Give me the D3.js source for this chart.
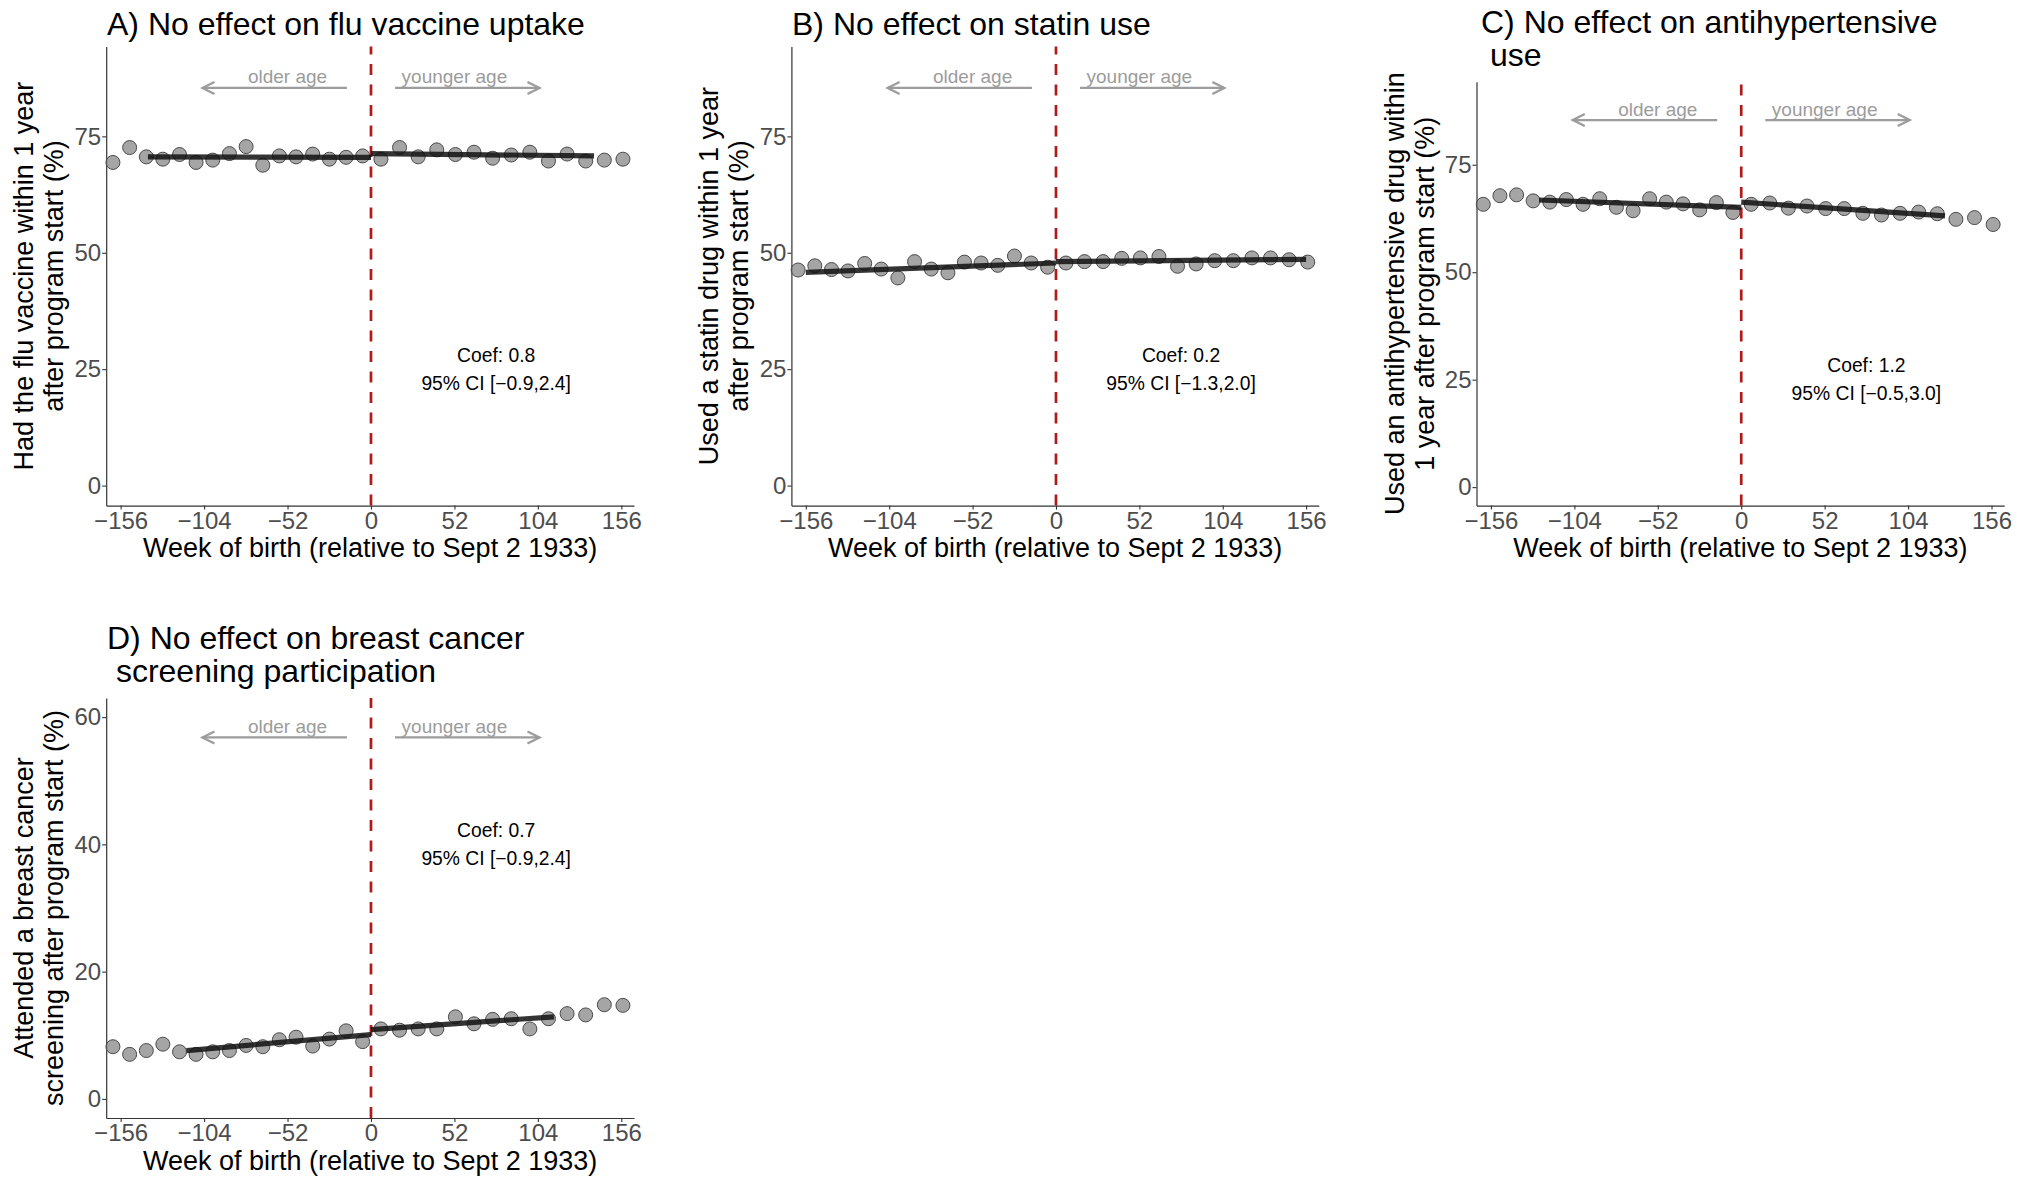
<!DOCTYPE html>
<html>
<head>
<meta charset="utf-8">
<script src="https://cdn.jsdelivr.net/npm/d3@7"></script>
<style>
  html, body { margin: 0; padding: 0; background: #fff; }
  svg { display: block; font-family: "Liberation Sans", Arial, Helvetica, sans-serif; }
  .pre { white-space: pre; }
</style>
</head>
<body>
<svg id="chart" width="2035" height="1178"></svg>
<script>
// ---------------- DATA ----------------
const weeks = [-160.8, -150.4, -140.0, -129.7, -119.3, -109.0, -98.6, -88.2, -77.8, -67.4,
               -57.1, -46.7, -36.3, -25.9, -15.5, -5.2,
               6.2, 17.8, 29.4, 41.0, 52.6, 64.2, 75.8, 87.4, 99.0, 110.6, 122.2, 133.8, 145.4, 157.0];

const fluValues = [69.4, 72.6, 70.6, 70.1, 71.1, 69.4, 69.9, 71.3, 72.8, 68.8,
                   70.8, 70.6, 71.2, 70.1, 70.5, 70.8,
                   70.1, 72.6, 70.6, 72.1, 71.1, 71.6, 70.3, 71.0, 71.6, 69.7, 71.2, 69.7, 69.9, 70.1];

const statinValues = [46.3, 47.2, 46.4, 46.1, 47.7, 46.5, 44.6, 48.1, 46.5, 45.7,
                      48.0, 47.8, 47.3, 49.3, 47.8, 46.9,
                      47.8, 48.1, 48.1, 48.8, 48.9, 49.2, 47.1, 47.6, 48.3, 48.3, 48.9, 48.9, 48.5, 48.0];

const antihypValues = [65.8, 67.8, 68.0, 66.6, 66.3, 66.9, 65.8, 67.1, 65.1, 64.3,
                       67.1, 66.3, 65.9, 64.5, 66.2, 63.9,
                       65.8, 66.1, 64.9, 65.4, 64.8, 64.8, 63.7, 63.3, 63.7, 64.0, 63.6, 62.3, 62.7, 61.1];

const breastValues = [8.2, 7.0, 7.6, 8.6, 7.4, 7.0, 7.4, 7.6, 8.4, 8.2,
                      9.3, 9.7, 8.3, 9.4, 10.7, 9.0,
                      11.0, 10.8, 11.0, 11.0, 12.9, 11.8, 12.5, 12.6, 11.0, 12.6, 13.4, 13.2, 14.8, 14.7];

// fitted local-linear lines (two segments each side of the cutoff)
const fluFitLeft = [[-139, 70.6], [0, 70.5]];
const fluFitRight = [[0, 71.3], [139, 70.8]];
const statinFitLeft = [[-156, 45.8], [0, 47.8]];
const statinFitRight = [[0, 48.1], [156, 48.6]];
const antihypFitLeft = [[-126, 66.8], [0, 65.1]];
const antihypFitRight = [[0, 66.3], [127, 63.1]];
const breastFitLeft = [[-115, 7.6], [0, 10.1]];
const breastFitRight = [[0, 10.9], [114, 12.9]];

const xTicks = [-156, -104, -52, 0, 52, 104, 156];
const pctTicks = [0, 25, 50, 75];
const breastTicks = [0, 20, 40, 60];

const xTitle = "Week of birth (relative to Sept 2 1933)";
const titles = {
  A: ["A) No effect on flu vaccine uptake"],
  B: ["B) No effect on statin use"],
  C: ["C) No effect on antihypertensive", " use"],
  D: ["D) No effect on breast cancer", " screening participation"]
};
const yTitles = {
  A: ["Had the flu vaccine within 1 year", "after program start (%)"],
  B: ["Used a statin drug within 1 year", "after program start (%)"],
  C: ["Used an antihypertensive drug within", "1 year after program start (%)"],
  D: ["Attended a breast cancer", "screening after program start (%)"]
};
const coefLabels = {
  A: ["Coef: 0.8", "95% CI [\u22120.9,2.4]"],
  B: ["Coef: 0.2", "95% CI [\u22121.3,2.0]"],
  C: ["Coef: 1.2", "95% CI [\u22120.5,3.0]"],
  D: ["Coef: 0.7", "95% CI [\u22120.9,2.4]"]
};
const arrowLabels = ["older age", "younger age"];
const arrowOlder = [-15, -105];
const arrowYounger = [15, 105];
const labelWeeks = [-52, 52];
const coefWeek = 78;

// ---------------- LAYOUT ----------------
const xDomain = [-165, 163.9];
const panels = [
  { key: "A", values: fluValues, fitL: fluFitLeft, fitR: fluFitRight, yTicks: pctTicks,
    yDomain: [-4.3, 94.3], left: 106.2, right: 634, top: 46.5, bottom: 505.6,
    titleX: 107, titleBase: [34.5], arrowY: 85.4, arrowTextY: 88, coefY: 25 },
  { key: "B", values: statinValues, fitL: statinFitLeft, fitR: statinFitRight, yTicks: pctTicks,
    yDomain: [-4.3, 94.3], left: 791.4, right: 1318.8, top: 46.5, bottom: 505.6,
    titleX: 792, titleBase: [34.5], arrowY: 85.4, arrowTextY: 88, coefY: 25 },
  { key: "C", values: antihypValues, fitL: antihypFitLeft, fitR: antihypFitRight, yTicks: pctTicks,
    yDomain: [-4.3, 94.3], left: 1476.5, right: 2004.2, top: 81.8, bottom: 505.6,
    titleX: 1481, titleBase: [33, 66], arrowY: 85.4, arrowTextY: 88, coefY: 25 },
  { key: "D", values: breastValues, fitL: breastFitLeft, fitR: breastFitRight, yTicks: breastTicks,
    yDomain: [-3, 63], left: 106.2, right: 634, top: 698, bottom: 1118,
    titleX: 107, titleBase: [649, 682], arrowY: 56.8, arrowTextY: 58.6, coefY: 40 }
];

const svg = d3.select("#chart");
svg.append("rect").attr("width", 2035).attr("height", 1178).attr("fill", "#fff");

const gray = "#9c9c9c";

panels.forEach(p => {
  const g = svg.append("g");
  const x = d3.scaleLinear().domain(xDomain).range([p.left, p.right]);
  const y = d3.scaleLinear().domain(p.yDomain).range([p.bottom, p.top]);

  // title
  titles[p.key].forEach((t, i) => {
    g.append("text").attr("class", "pre")
      .attr("x", p.titleX).attr("y", p.titleBase[i])
      .attr("font-size", 32).attr("fill", "#000").text(t);
  });

  // axes
  const xa = g.append("g").attr("transform", `translate(0,${p.bottom})`)
    .call(d3.axisBottom(x).tickValues(xTicks).tickSize(4).tickSizeOuter(0).tickPadding(2));
  const ya = g.append("g").attr("transform", `translate(${p.left},0)`)
    .call(d3.axisLeft(y).tickValues(p.yTicks).tickSize(4).tickSizeOuter(0).tickPadding(1));
  [xa, ya].forEach(a => {
    a.select(".domain").attr("stroke", "#333").attr("stroke-width", 1.2);
    a.selectAll(".tick line").attr("stroke", "#333").attr("stroke-width", 1.1);
    a.selectAll(".tick text").attr("fill", "#4d4d4d").attr("font-size", 24)
      .attr("font-family", "Liberation Sans, Arial, sans-serif");
  });

  // axis titles
  g.append("text").attr("x", (p.left + p.right) / 2).attr("y", p.bottom + 51.7)
    .attr("text-anchor", "middle").attr("font-size", 27).attr("fill", "#000").text(xTitle);
  const cy = (p.top + p.bottom) / 2;
  yTitles[p.key].forEach((t, i) => {
    const bx = p.left - 73 + i * 30;
    g.append("text").attr("transform", `translate(${bx},${cy}) rotate(-90)`)
      .attr("text-anchor", "middle").attr("font-size", 27).attr("fill", "#000").text(t);
  });

  // cutoff line (drawn bottom to top like ggplot)
  g.append("line").attr("x1", x(0)).attr("x2", x(0)).attr("y1", p.bottom).attr("y2", p.top)
    .attr("stroke", "#b01a1a").attr("stroke-width", 2.7).attr("stroke-dasharray", "11,9.5");

  // arrows
  [arrowOlder, arrowYounger].forEach((a, i) => {
    const x1 = x(a[0]), x2 = x(a[1]), yy = y(p.arrowY);
    const dir = Math.sign(x2 - x1);
    g.append("line").attr("x1", x1).attr("x2", x2).attr("y1", yy).attr("y2", yy)
      .attr("stroke", gray).attr("stroke-width", 2.3);
    g.append("path")
      .attr("d", `M${x2 - dir * 12},${yy - 6} L${x2},${yy} L${x2 - dir * 12},${yy + 6}`)
      .attr("fill", "none").attr("stroke", gray).attr("stroke-width", 2.3)
      .attr("stroke-linejoin", "miter");
    g.append("text").attr("x", x(labelWeeks[i])).attr("y", y(p.arrowTextY) + 7)
      .attr("text-anchor", "middle").attr("font-size", 19).attr("fill", gray).text(arrowLabels[i]);
  });

  // points
  g.append("g").selectAll("circle").data(weeks.map((w, i) => [w, p.values[i]])).join("circle")
    .attr("cx", d => x(d[0])).attr("cy", d => y(d[1])).attr("r", 7)
    .attr("fill", "#7f7f7f").attr("fill-opacity", 0.7)
    .attr("stroke", "#4a4a4a").attr("stroke-width", 1);

  // fitted lines
  const line = d3.line().x(d => x(d[0])).y(d => y(d[1]));
  [p.fitL, p.fitR].forEach(f => {
    g.append("path").attr("d", line(f)).attr("fill", "none")
      .attr("stroke", "#111").attr("stroke-opacity", 0.85).attr("stroke-width", 5.2);
  });

  // coefficient annotation
  const cyv = y(p.coefY);
  coefLabels[p.key].forEach((t, i) => {
    g.append("text").attr("x", x(coefWeek)).attr("y", cyv - 7.5 + i * 28.3)
      .attr("text-anchor", "middle").attr("font-size", 19.3).attr("fill", "#000").text(t);
  });
});
</script>
</body>
</html>
